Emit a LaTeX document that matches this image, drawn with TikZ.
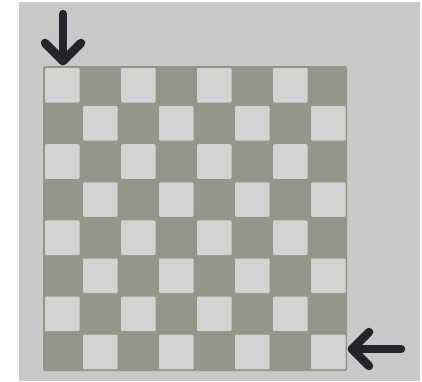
\documentclass[tikz,border=0pt]{standalone}
\begin{document}
\begin{tikzpicture}[x=1pt,y=-1pt,
  bg/.style={fill=bggray},
  darkcell/.style={fill=boarddark},
  lightcell/.style={fill=boardlight, rounded corners=1.2pt},
  pointer/.style={draw=arrowink, line width=8.5pt, line cap=round, line join=round}]
\definecolor{bggray}{HTML}{C9C9C9}
\definecolor{boarddark}{HTML}{95958A}
\definecolor{boardlight}{HTML}{D3D3D3}
\definecolor{arrowink}{HTML}{24252B}
\useasboundingbox (0,0) rectangle (422,381);
\fill[white] (0,0) rectangle (422,381);
\fill[bg] (19,2) rectangle (420,381);
% board
\fill[darkcell, rounded corners=1.5pt] (43,66) rectangle (347,371);
\foreach \i in {0,...,7}{
  \foreach \j in {0,...,7}{
    \pgfmathtruncatemacro{\cellpar}{mod(\i+\j,2)}
    \ifnum\cellpar=0
      \fill[lightcell] ({43+38*\i+2},{66+38.1*\j+2}) rectangle ({43+38*(\i+1)-1.5},{66+38.1*(\j+1)-1.5});
    \fi
  }
}
% arrows
\coordinate (topstart) at (63,14);
\coordinate (toptip) at (63,61);
\coordinate (topleft) at (45,43);
\coordinate (topright) at (81,43);
\draw[pointer] (topstart) -- (toptip);
\draw[pointer] (topleft) -- (toptip) -- (topright);
\coordinate (rstart) at (401,349);
\coordinate (rtip) at (352,349);
\coordinate (rup) at (369,332);
\coordinate (rdown) at (369,366);
\draw[pointer] (rstart) -- (rtip);
\draw[pointer] (rup) -- (rtip) -- (rdown);
\end{tikzpicture}
\end{document}
